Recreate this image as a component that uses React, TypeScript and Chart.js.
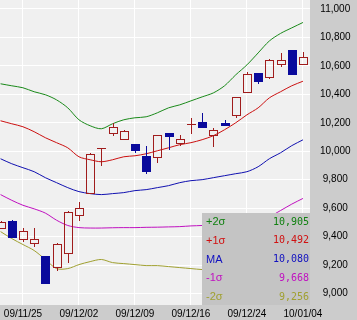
import React, { useEffect, useRef } from 'react';
import { Chart, registerables } from 'chart.js';

Chart.register(...registerables);

// ---- data ----
const dates = [
  '09/11/20', '09/11/24', '09/11/25', '09/11/26', '09/11/27', '09/11/30', '09/12/01',
  '09/12/02', '09/12/03', '09/12/04', '09/12/07', '09/12/08', '09/12/09', '09/12/10',
  '09/12/11', '09/12/14', '09/12/15', '09/12/16', '09/12/17', '09/12/18', '09/12/21',
  '09/12/22', '09/12/24', '09/12/25', '09/12/28', '09/12/29', '09/12/30', '10/01/04',
];
const opens = [9463, 9512, 9386, 9358, 9260, 9189, 9288, 9554, 9709, 10024, 10130, 10088, 10053, 9968, 9961, 10130, 10060, 10193, 10207, 10116, 10200, 10256, 10417, 10551, 10523, 10614, 10712, 10614];
const highs = [9510, 9515, 9463, 9463, 9260, 9358, 9580, 9646, 9985, 10024, 10200, 10150, 10053, 10039, 10116, 10130, 10116, 10235, 10270, 10165, 10221, 10382, 10558, 10551, 10649, 10691, 10712, 10698];
const lows = [9460, 9393, 9365, 9330, 9070, 9161, 9217, 9512, 9705, 9898, 10109, 10085, 9989, 9842, 9919, 10010, 10039, 10123, 10172, 10031, 10186, 10235, 10417, 10474, 10509, 10593, 10544, 10614];
const closes = [9505, 9400, 9442, 9386, 9077, 9351, 9575, 9603, 9982, 10024, 10172, 10144, 10010, 9863, 10116, 10109, 10088, 10193, 10172, 10151, 10186, 10382, 10544, 10495, 10642, 10642, 10544, 10663];

const plus2 = [10474, 10460, 10446, 10418, 10397, 10361, 10305, 10221, 10179, 10158, 10193, 10221, 10235, 10242, 10270, 10305, 10326, 10354, 10382, 10410, 10460, 10537, 10607, 10691, 10775, 10828, 10867, 10905];
const plus1 = [10214, 10193, 10172, 10137, 10095, 10060, 10024, 9961, 9940, 9926, 9940, 9961, 9968, 9982, 10003, 10024, 10046, 10060, 10081, 10109, 10151, 10200, 10256, 10305, 10375, 10418, 10460, 10492];
const ma = [9947, 9912, 9884, 9856, 9814, 9779, 9744, 9716, 9702, 9695, 9702, 9709, 9723, 9730, 9744, 9758, 9779, 9793, 9800, 9814, 9828, 9842, 9856, 9891, 9947, 9989, 10039, 10080];
const minus1 = [9695, 9655, 9620, 9595, 9565, 9515, 9478, 9463, 9460, 9460, 9462, 9463, 9463, 9465, 9466, 9468, 9470, 9475, 9478, 9485, 9490, 9495, 9505, 9520, 9540, 9583, 9628, 9668];
const minus2 = [9435, 9386, 9344, 9302, 9239, 9175, 9175, 9203, 9224, 9239, 9217, 9210, 9203, 9196, 9196, 9189, 9182, 9175, 9168, 9165, 9160, 9150, 9140, 9135, 9150, 9180, 9215, 9256];

const bandLabels = ['+2σ', '+1σ', 'MA', '-1σ', '-2σ'];
const bandSeries = [plus2, plus1, ma, minus1, minus2];
const bandColors = ['#1a8a1a', '#cc1010', '#1010b0', '#c010c0', '#a0a030'];
const bandTextColors = ['#108010', '#d01010', '#1010c0', '#c010c0', '#a0a030'];

const xTickIndices = [2, 7, 12, 17, 22, 27];
const yTicks = [9000, 9200, 9400, 9600, 9800, 10000, 10200, 10400, 10600, 10800, 11000];

const PLOT_BG = '#f0f0f0';
const AXIS_BG = '#cccccc';
const LEGEND_BG = '#c4c4c4';
const UP_COLOR = '#a01c1c';
const DOWN_COLOR = '#0a0a9c';

const axisFont = { family: "'Liberation Sans', Arial, sans-serif", size: 10 };

const bgPlugin = {
  id: 'bg',
  beforeDraw(chart: any) {
    const { ctx, chartArea, width, height } = chart;
    ctx.save();
    ctx.fillStyle = AXIS_BG;
    ctx.fillRect(0, 0, width, height);
    ctx.fillStyle = PLOT_BG;
    ctx.fillRect(chartArea.left, chartArea.top, chartArea.right - chartArea.left, chartArea.bottom - chartArea.top);
    ctx.restore();
  },
};

const candlePlugin = {
  id: 'candles',
  afterDatasetsDraw(chart: any) {
    const { ctx, chartArea, scales } = chart;
    const xs = scales.x;
    const ys = scales.y;
    ctx.save();
    ctx.beginPath();
    ctx.rect(chartArea.left, chartArea.top, chartArea.right - chartArea.left, chartArea.bottom - chartArea.top);
    ctx.clip();
    ctx.lineWidth = 1;
    const half = 4;
    for (let i = 0; i < closes.length; i++) {
      const cx = Math.round(xs.getPixelForValue(i)) + 0.5;
      const o = opens[i], c = closes[i], h = highs[i], l = lows[i];
      const yo = Math.round(ys.getPixelForValue(o));
      const yc = Math.round(ys.getPixelForValue(c));
      const yh = Math.round(ys.getPixelForValue(h));
      const yl = Math.round(ys.getPixelForValue(l));
      const up = c >= o;
      const col = up ? UP_COLOR : DOWN_COLOR;
      ctx.strokeStyle = col;
      ctx.fillStyle = col;
      const top = Math.min(yo, yc);
      const bot = Math.max(yo, yc);
      // wicks
      ctx.beginPath();
      if (yh < top) { ctx.moveTo(cx, yh); ctx.lineTo(cx, top); }
      if (yl > bot) { ctx.moveTo(cx, bot); ctx.lineTo(cx, yl); }
      ctx.stroke();
      if (bot - top < 1) {
        ctx.beginPath();
        ctx.moveTo(cx - half - 0.5, top + 0.5);
        ctx.lineTo(cx + half + 0.5, top + 0.5);
        ctx.stroke();
      } else if (up) {
        ctx.strokeRect(cx - half, top + 0.5, half * 2, bot - top);
      } else {
        ctx.fillRect(cx - half - 0.5, top, half * 2 + 1, bot - top + 1);
      }
    }
    ctx.restore();
  },
};

const legendPlugin = {
  id: 'bandLegend',
  afterDraw(chart: any) {
    const { ctx, chartArea } = chart;
    const w = 108;
    const hgt = 92;
    const x0 = chartArea.right - w;
    const y0 = chartArea.bottom - hgt;
    ctx.save();
    ctx.fillStyle = LEGEND_BG;
    ctx.fillRect(x0, y0, w, hgt);
    ctx.textBaseline = 'middle';
    for (let k = 0; k < bandLabels.length; k++) {
      const yy = y0 + 9 + k * 18.8;
      const series = bandSeries[k];
      ctx.fillStyle = bandTextColors[k];
      ctx.textAlign = 'left';
      ctx.font = "11px 'Liberation Sans', Arial, sans-serif";
      ctx.fillText(bandLabels[k], x0 + 4, yy);
      ctx.textAlign = 'right';
      ctx.font = "10px 'DejaVu Sans Mono', monospace";
      ctx.fillText(series[series.length - 1].toLocaleString('en-US'), chartArea.right - 1, yy);
    }
    ctx.restore();
  },
};

export default function App() {
  const ref = useRef<HTMLCanvasElement | null>(null);

  useEffect(() => {
    document.body.style.margin = '0';
    if (!ref.current) return;
    const toPoints = (arr: number[]) => arr.map((v, i) => ({ x: i, y: v }));
    const chart = new Chart(ref.current, {
      type: 'line',
      data: {
        datasets: bandSeries.map((s, k) => ({
          label: bandLabels[k],
          data: toPoints(s),
          borderColor: bandColors[k],
          borderWidth: 1,
          pointRadius: 0,
          fill: false,
          tension: 0.3,
        })),
      },
      options: {
        animation: false,
        responsive: false,
        maintainAspectRatio: false,
        layout: { padding: 0 },
        plugins: { legend: { display: false }, tooltip: { enabled: false } },
        scales: {
          x: {
            type: 'linear',
            position: 'bottom',
            min: -0.05,
            max: 27.63,
            grid: { color: '#ffffff', lineWidth: 1, drawTicks: false },
            border: { display: false },
            ticks: {
              autoSkip: false,
              maxRotation: 0,
              minRotation: 0,
              padding: 3,
              color: '#000000',
              font: axisFont,
              callback: (v: any) => dates[Math.round(Number(v))] ?? '',
            },
            afterBuildTicks: (s: any) => {
              s.ticks = xTickIndices.map((v) => ({ value: v }));
            },
            afterFit: (s: any) => {
              s.height = 15;
              s.paddingLeft = 0;
              s.paddingRight = 0;
            },
          },
          y: {
            type: 'linear',
            position: 'right',
            min: 8919,
            max: 11063,
            grid: { color: '#ffffff', lineWidth: 1, drawTicks: false },
            border: { display: false },
            ticks: {
              padding: 10,
              crossAlign: 'center',
              color: '#000000',
              font: axisFont,
              callback: (v: any) => Number(v).toLocaleString('en-US'),
            },
            afterBuildTicks: (s: any) => {
              s.ticks = yTicks.map((v) => ({ value: v }));
            },
            afterFit: (s: any) => {
              s.width = 47;
              s.paddingTop = 0;
              s.paddingBottom = 0;
            },
          },
        },
      } as any,
      plugins: [bgPlugin, candlePlugin, legendPlugin],
    });
    return () => chart.destroy();
  }, []);

  return (
    <div style={{ position: 'fixed', left: 0, top: 0, width: 357, height: 320 }}>
      <canvas ref={ref} width={357} height={320} style={{ width: 357, height: 320, display: 'block' }} />
    </div>
  );
}
